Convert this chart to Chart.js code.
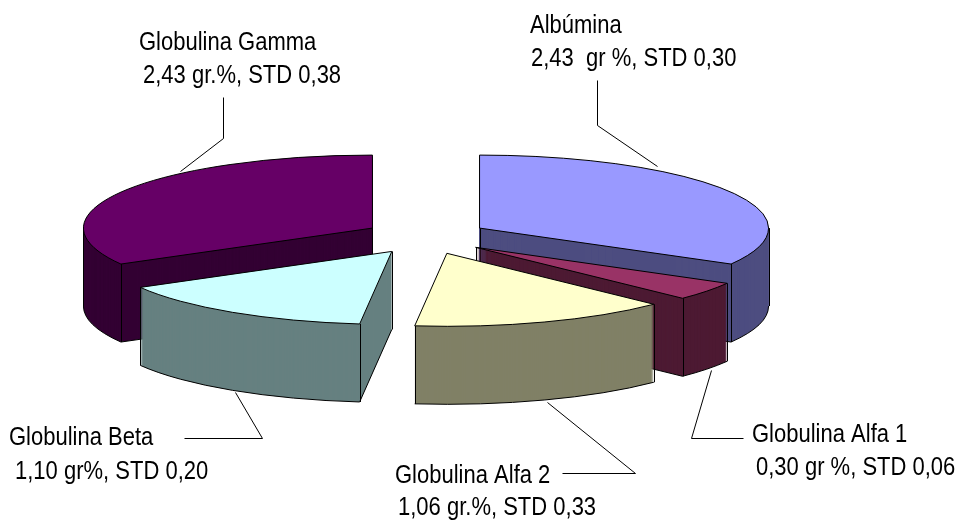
<!DOCTYPE html>
<html><head><meta charset="utf-8">
<style>html,body{margin:0;padding:0;background:#fff}#w{width:956px;height:520px;position:relative}</style>
<script src="https://cdn.jsdelivr.net/npm/chart.js@4/dist/chart.umd.min.js"></script>
</head><body><div id="w"><canvas id="c"></canvas></div>
<script>
const categories = ["Albúmina","Globulina Alfa 1","Globulina Alfa 2","Globulina Beta","Globulina Gamma"];
const values = [2.43,0.30,1.06,1.10,2.43];
const topColors = ["#9999FF","#993366","#FFFFCC","#CCFFFF","#660066"];
const sideColors = ["#4D4D80","#4D1A33","#808066","#668080","#330033"];
const detailLines = ["2,43  gr %, STD 0,30","0,30 gr %, STD 0,06","1,06 gr.%, STD 0,33","1,10 gr%, STD 0,20","2,43 gr.%, STD 0,38"];

const SQUASH = 0.2526, DEPTH = 78, EXPLODE = 62, EXPLODE_Y = 17.45, SHIFT_Y = 0.87, TEXT_STRETCH = 1.14;
const drawOrder = [0,4,1,3,2];
const labelLayout = [
  {x:[530,531], y:[33,66], line:[[597,80],[597,125],[657,166]]},
  {x:[752,756], y:[442,475], line:[[711,370],[691,438],[743,438]]},
  {x:[395,398], y:[483,515], line:[[547,402],[635,473],[562,473]]},
  {x:[9,15], y:[445,479], line:[[235,392],[262,438],[184,438]]},
  {x:[139,143], y:[50,83], line:[[180,171],[223,138],[223,97]]}
];

const pie3d = {
  id:'pie3d',
  beforeDatasetsDraw(chart){
    const ctx = chart.ctx, arcs = chart.getDatasetMeta(0).data;
    drawOrder.forEach(i=>{
      const a = arcs[i], s = a.startAngle, e = a.endAngle, R = a.outerRadius;
      const mid = (s+e)/2;
      const ax = a.x + Math.cos(mid)*EXPLODE;
      const ay = a.y + SHIFT_Y + Math.sin(mid)*EXPLODE_Y;
      const pt = (t,d)=>[ax+R*Math.cos(t), ay+d+R*SQUASH*Math.sin(t)];
      const sector = d=>{
        ctx.beginPath();
        ctx.moveTo(ax,ay+d);
        ctx.ellipse(ax,ay+d,R,R*SQUASH,0,s,e);
        ctx.closePath();
      };
      ctx.fillStyle = sideColors[i];
      for(let d=DEPTH;d>0;d--){ sector(d); ctx.fill(); }
      ctx.strokeStyle='#000'; ctx.lineWidth=1;
      const sf = Math.cos(s) < -1e-3;
      const ef = Math.cos(e) >  1e-3;
      const lo = Math.max(s,0), hi = Math.min(e,Math.PI);
      const arcSeen = t => Math.sin(t) > 1e-3;
      const vert = p => { const x=Math.round(p[0])+.5; ctx.beginPath(); ctx.moveTo(x,p[1]); ctx.lineTo(x,p[1]+DEPTH); ctx.stroke(); };
      if(hi>lo){
        ctx.beginPath(); ctx.ellipse(ax,ay+DEPTH,R,R*SQUASH,0,lo,hi); ctx.stroke();
      }
      if(s<=0 && e>=0) vert(pt(0,0));
      if(s<=Math.PI && e>=Math.PI) vert(pt(Math.PI,0));
      if(sf){ const p=pt(s,DEPTH); ctx.beginPath(); ctx.moveTo(ax,ay+DEPTH); ctx.lineTo(p[0],p[1]); ctx.stroke(); }
      if(ef){ const p=pt(e,DEPTH); ctx.beginPath(); ctx.moveTo(ax,ay+DEPTH); ctx.lineTo(p[0],p[1]); ctx.stroke(); }
      if(sf||ef) vert([ax,ay]);
      if(sf||arcSeen(s)) vert(pt(s,0));
      if(ef||arcSeen(e)) vert(pt(e,0));
      sector(0);
      ctx.fillStyle = topColors[i]; ctx.fill();
      ctx.stroke();
    });
    return false;
  },
  afterDraw(chart){
    const ctx = chart.ctx;
    ctx.save();
    ctx.strokeStyle='#000'; ctx.lineWidth=1; ctx.fillStyle='#000';
    ctx.textBaseline='alphabetic'; ctx.textAlign='left';
    ctx.font='22px "Liberation Sans"';
    labelLayout.forEach((l,i)=>{
      ctx.beginPath();
      l.line.forEach((p,k)=> k? ctx.lineTo(p[0]+.5,p[1]+.5):ctx.moveTo(p[0]+.5,p[1]+.5));
      ctx.stroke();
      [categories[i],detailLines[i]].forEach((t,k)=>{
        ctx.save();
        ctx.translate(l.x[k],l.y[k]);
        ctx.scale(1,TEXT_STRETCH);
        ctx.fillText(t,0,0);
        ctx.restore();
      });
    });
    ctx.restore();
  }
};

new Chart(document.getElementById('c'),{
  type:'pie',
  data:{labels:categories,datasets:[{data:values,backgroundColor:topColors,borderWidth:0,offset:0,clip:false}]},
  options:{
    responsive:true,maintainAspectRatio:false,animation:false,
    radius:289,
    layout:{padding:{left:0,top:0,right:104,bottom:48}},
    plugins:{legend:{display:false},tooltip:{enabled:false}},
    devicePixelRatio:1
  },
  plugins:[pie3d]
});
</script></body></html>
